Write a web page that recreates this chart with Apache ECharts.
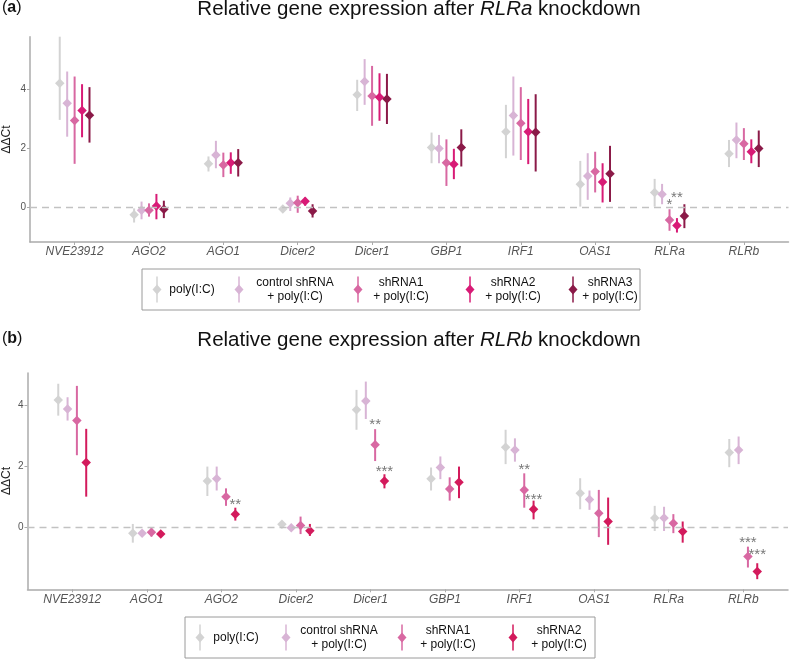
<!DOCTYPE html>
<html><head><meta charset="utf-8">
<script src="https://cdn.jsdelivr.net/npm/echarts@6/dist/echarts.min.js"></script>
<style>html,body{margin:0;padding:0;background:#fff}#c{width:790px;height:659px}</style>
</head><body><div id="c"></div>
<script>
// ---------- Panel (a): RLRa knockdown ----------
const genesA = ['NVE23912','AGO2','AGO1','Dicer2','Dicer1','GBP1','IRF1','OAS1','RLRa','RLRb'];
const a_poly_mean = [4.19,-0.27,1.46,-0.07,3.80,2.01,2.55,0.77,0.49,1.80];
const a_poly_lo   = [2.95,-0.53,1.20,-0.12,3.25,1.48,1.65,0.01,0.01,1.35];
const a_poly_hi   = [5.77,-0.05,1.71,-0.02,4.31,2.52,3.46,1.56,0.95,2.27];
const a_ctrl_mean = [3.51,-0.11,1.76,0.12,4.25,1.98,3.10,1.05,0.43,2.27];
const a_ctrl_lo   = [2.38,-0.42,1.31,-0.14,3.46,1.48,1.74,0.24,0.09,1.65];
const a_ctrl_hi   = [4.59,0.18,2.24,0.32,5.01,2.44,4.42,1.82,0.78,2.86];
const a_sh1_mean  = [2.93,-0.11,1.42,0.14,3.76,1.50,2.84,1.20,-0.44,2.14];
const a_sh1_lo    = [1.46,-0.33,1.01,-0.20,2.75,0.71,1.59,0.49,-0.81,1.59];
const a_sh1_hi    = [4.42,0.12,1.84,0.38,4.78,2.29,4.06,1.87,-0.08,2.67];
const a_sh2_mean  = [3.27,0.03,1.50,0.19,3.72,1.45,2.55,0.84,-0.63,1.87];
const a_sh2_lo    = [2.36,-0.42,1.12,0.04,2.92,0.94,1.45,0.15,-0.87,1.48];
const a_sh2_hi    = [4.16,0.44,1.85,0.32,4.53,1.97,3.66,1.48,-0.38,2.29];
const a_sh3_mean  = [3.11,-0.08,1.50,-0.14,3.66,2.01,2.53,1.12,-0.31,1.98];
const a_sh3_lo    = [2.18,-0.38,1.03,-0.36,2.81,1.37,1.20,0.17,-0.72,1.35];
const a_sh3_hi    = [4.06,0.21,1.96,0.09,4.51,2.63,3.82,2.07,0.09,2.59];
// significance: [gene index, group index, label, label height (ΔΔCt)]
const sigA = [[8,2,'*',0.18],[8,3,'**',0.44]];
const legendA = ['poly(I:C)','control shRNA\n+ poly(I:C)','shRNA1\n+ poly(I:C)','shRNA2\n+ poly(I:C)','shRNA3\n+ poly(I:C)'];

// ---------- Panel (b): RLRb knockdown ----------
const genesB = ['NVE23912','AGO1','AGO2','Dicer2','Dicer1','GBP1','IRF1','OAS1','RLRa','RLRb'];
const b_poly_mean = [4.16,-0.18,1.52,0.11,3.84,1.59,2.62,1.12,0.31,2.45];
const b_poly_lo   = [3.65,-0.49,1.03,0.03,3.19,1.21,2.07,0.60,-0.11,1.97];
const b_poly_hi   = [4.69,0.12,1.99,0.18,4.49,1.96,3.19,1.61,0.71,2.89];
const b_ctrl_mean = [3.87,-0.18,1.59,0.00,4.13,1.96,2.53,0.92,0.31,2.53];
const b_ctrl_lo   = [3.49,-0.25,1.21,-0.05,3.54,1.58,2.15,0.58,-0.11,2.07];
const b_ctrl_hi   = [4.25,-0.10,1.99,0.05,4.76,2.32,2.91,1.21,0.68,2.97];
const b_sh1_mean  = [3.49,-0.15,1.01,0.07,2.70,1.26,1.23,0.47,0.14,-0.94];
const b_sh1_lo    = [2.36,-0.29,0.71,-0.21,2.17,0.88,0.65,-0.31,-0.18,-1.30];
const b_sh1_hi    = [4.62,-0.02,1.28,0.36,3.21,1.64,1.77,1.23,0.44,-0.62];
const b_sh2_mean  = [2.12,-0.21,0.44,-0.10,1.52,1.48,0.60,0.20,-0.13,-1.43];
const b_sh2_lo    = [1.01,-0.28,0.23,-0.27,1.28,0.96,0.27,-0.56,-0.49,-1.68];
const b_sh2_hi    = [3.22,-0.14,0.65,0.12,1.74,1.99,0.88,0.98,0.20,-1.16];
const sigB = [[2,3,'**',0.85],[4,2,'**',3.46],[4,3,'***',1.94],[6,2,'**',1.99],[6,3,'***',1.01],
              [9,2,'***',-0.38],[9,3,'***',-0.78]];
const legendB = ['poly(I:C)','control shRNA\n+ poly(I:C)','shRNA1\n+ poly(I:C)','shRNA2\n+ poly(I:C)'];

const yTicks = [0,2,4];
const yTitle = 'ΔΔCt';

// ---------- styling ----------
const FONT = '"Liberation Sans", Arial, Helvetica, sans-serif';
const colorsA = ['#d3d3d3','#d8b4d5','#d868a2','#d81b76','#8b1a48'];
const colorsB = ['#d3d3d3','#d8b4d5','#d868a2','#d31a5c'];
const dodgeA = 0.1, dodgeB = 0.125;

const groupsA = [
  [a_poly_mean,a_poly_lo,a_poly_hi],[a_ctrl_mean,a_ctrl_lo,a_ctrl_hi],
  [a_sh1_mean,a_sh1_lo,a_sh1_hi],[a_sh2_mean,a_sh2_lo,a_sh2_hi],[a_sh3_mean,a_sh3_lo,a_sh3_hi]];
const groupsB = [
  [b_poly_mean,b_poly_lo,b_poly_hi],[b_ctrl_mean,b_ctrl_lo,b_ctrl_hi],
  [b_sh1_mean,b_sh1_lo,b_sh1_hi],[b_sh2_mean,b_sh2_lo,b_sh2_hi]];

function xPos(gi, k, n, d){ return gi + (k - (n-1)/2) * d; }

const series = [];
function addPanel(idx, groups, colors, dodge, sig){
  const n = groups.length;
  series.push({type:'scatter', xAxisIndex:idx, yAxisIndex:idx, data:[], z:1, silent:true,
    markLine:{silent:true, symbol:'none', label:{show:false},
      lineStyle:{color:'#c2c2c2', type:[7,5], width:1.4}, data:[{yAxis:0}]}});
  groups.forEach((g,k)=>{
    const ebData = g[0].map((m,i)=>[xPos(i,k,n,dodge), g[1][i], g[2][i]]);
    const ptData = g[0].map((m,i)=>[xPos(i,k,n,dodge), m]);
    const col = colors[k];
    series.push({type:'custom', xAxisIndex:idx, yAxisIndex:idx, z:2, silent:true,
      encode:{x:0, y:[1,2]}, data:ebData,
      renderItem:(params, api)=>{
        const x = api.value(0);
        const p1 = api.coord([x, api.value(1)]), p2 = api.coord([x, api.value(2)]);
        return {type:'line', shape:{x1:p1[0],y1:p1[1],x2:p2[0],y2:p2[1]},
          style:{stroke:col, lineWidth:2}};
      }});
    series.push({type:'scatter', xAxisIndex:idx, yAxisIndex:idx, z:3, silent:true,
      symbol:'diamond', symbolSize:[9.5,9.5], itemStyle:{color:col, opacity:1}, data:ptData});
  });
  series.push({type:'scatter', xAxisIndex:idx, yAxisIndex:idx, z:4, silent:true,
    symbolSize:0, data: sig.map(s=>[xPos(s[0],s[1],n,dodge), s[3], s[2]]),
    label:{show:true, position:'inside', offset:[0,3.5], formatter:p=>p.value[2],
      color:'#555', fontSize:15, fontFamily:FONT}});
}
addPanel(0, groupsA, colorsA, dodgeA, sigA);
addPanel(1, groupsB, colorsB, dodgeB, sigB);

function xAxis(idx, genes){
  return {type:'value', gridIndex:idx, min:-0.6, max:9.6,
    axisLine:{show:true, onZero:false, lineStyle:{color:'#ababab', width:1.5}},
    axisTick:{show:true, customValues:[0,1,2,3,4,5,6,7,8,9], length:3, lineStyle:{color:'#ababab'}},
    axisLabel:{customValues:[0,1,2,3,4,5,6,7,8,9], formatter:v=>genes[Math.round(v)],
      fontStyle:'italic', fontSize:12, color:'#555', fontFamily:FONT, margin:4},
    splitLine:{show:false}};
}
function yAxis(idx, min, max){
  return {type:'value', gridIndex:idx, min:min, max:max,
    axisLine:{show:true, onZero:false, lineStyle:{color:'#ababab', width:1.5}},
    axisTick:{show:true, customValues:yTicks, length:3, lineStyle:{color:'#ababab'}},
    axisLabel:{customValues:yTicks, fontSize:10, color:'#555', fontFamily:FONT, margin:4},
    splitLine:{show:false}};
}

const graphic = [];
function addTitle(y, letter, gene, yMid){
  graphic.push({type:'text', left:2, top:y-9, style:{text:'({b|'+letter+'})', fontSize:16, fill:'#111', fontFamily:FONT,
    rich:{b:{fontWeight:'bold', fontSize:16, fill:'#111', fontFamily:FONT}}}});
  graphic.push({type:'text', x:419, y:y, style:{text:'Relative gene expression after {i|'+gene+'} knockdown',
    fontSize:20.5, fill:'#111', fontFamily:FONT, align:'center', verticalAlign:'middle',
    rich:{i:{fontStyle:'italic', fontSize:20.5, fill:'#111', fontFamily:FONT}}}});
  graphic.push({type:'text', x:7, y:yMid, rotation:Math.PI/2, style:{text:yTitle, fontSize:12, fill:'#222',
    fontFamily:FONT, align:'center', verticalAlign:'middle'}});
}
addTitle(9, 'a', 'RLRa', 139.4);
addTitle(340, 'b', 'RLRb', 481);

function addLegend(box, icons, texts, labels, colors){
  graphic.push({type:'rect', shape:{x:box[0], y:box[1], width:box[2]-box[0], height:box[3]-box[1]},
    style:{fill:'#fff', stroke:'#9a9a9a', lineWidth:1}});
  const yc = (box[1]+box[3])/2;
  labels.forEach((lab,k)=>{
    graphic.push({type:'line', shape:{x1:icons[k], y1:yc-13, x2:icons[k], y2:yc+13},
      style:{stroke:colors[k], lineWidth:1.5}});
    graphic.push({type:'polygon', shape:{points:[[icons[k],yc-5],[icons[k]+4.5,yc],[icons[k],yc+5],[icons[k]-4.5,yc]]},
      style:{fill:colors[k]}});
    graphic.push({type:'text', x:texts[k], y:yc, style:{text:lab, fontSize:12, lineHeight:14, fill:'#111',
      fontFamily:FONT, align:'center', verticalAlign:'middle'}});
  });
}
addLegend([142,269,640,310],[157,239,358,470,573],[192,295,401,513,610], legendA, colorsA);
addLegend([185,617,595,658],[200,286,402,513],[236,339,448,559], legendB, colorsB);

const chart = echarts.init(document.getElementById('c'), null, {renderer:'canvas'});
chart.setOption({
  animation:false,
  backgroundColor:'#fff',
  grid:[{left:30, right:1.5, top:36.7, height:205.3, outerBoundsMode:'none', containLabel:false},
        {left:27.5, right:2, top:373, height:216.3, outerBoundsMode:'none', containLabel:false}],
  xAxis:[xAxis(0, genesA), xAxis(1, genesB)],
  yAxis:[yAxis(0, -1.19, 5.77), yAxis(1, -2.01, 5.04)],
  series: series,
  graphic: graphic
});
</script></body></html>
